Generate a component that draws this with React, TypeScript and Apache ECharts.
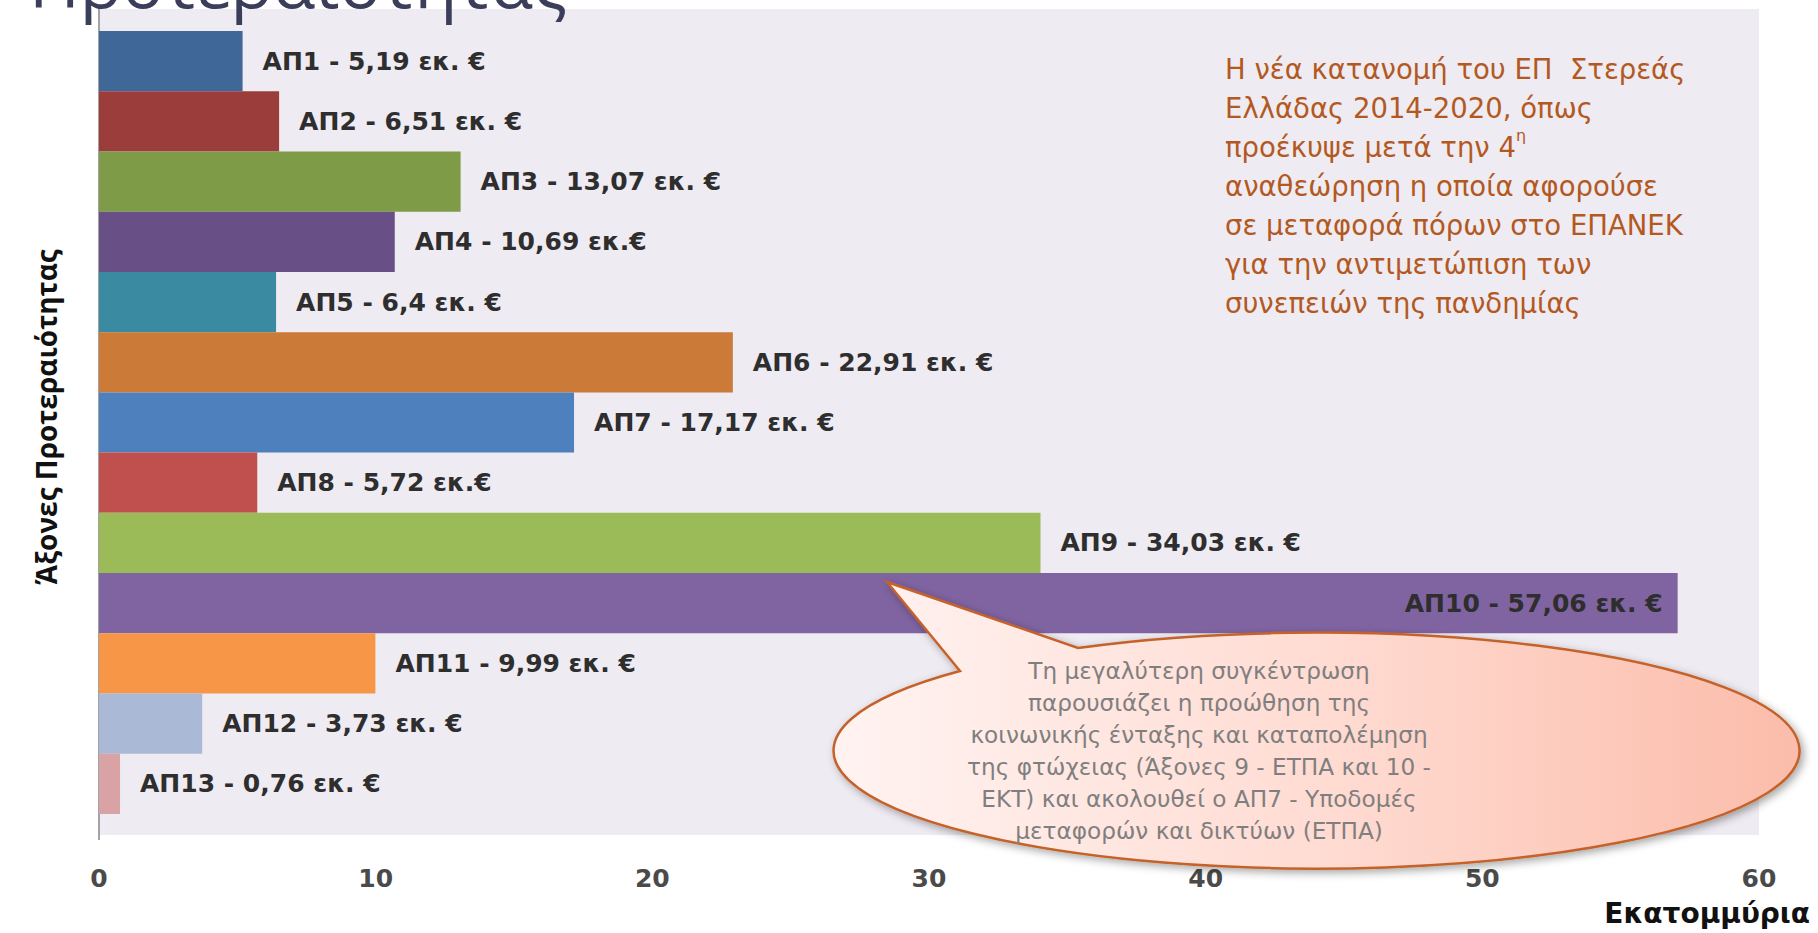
import React, { useEffect, useRef } from "react";
import * as echarts from "echarts";

const categories = ["ΑΠ1", "ΑΠ2", "ΑΠ3", "ΑΠ4", "ΑΠ5", "ΑΠ6", "ΑΠ7", "ΑΠ8", "ΑΠ9", "ΑΠ10", "ΑΠ11", "ΑΠ12", "ΑΠ13"];
const values = [5.19, 6.51, 13.07, 10.69, 6.4, 22.91, 17.17, 5.72, 34.03, 57.06, 9.99, 3.73, 0.76];
const barLabels = [
  "ΑΠ1 - 5,19 εκ. €",
  "ΑΠ2 - 6,51 εκ. €",
  "ΑΠ3 - 13,07 εκ. €",
  "ΑΠ4 - 10,69 εκ.€",
  "ΑΠ5 - 6,4 εκ. €",
  "ΑΠ6 - 22,91 εκ. €",
  "ΑΠ7 - 17,17 εκ. €",
  "ΑΠ8 - 5,72 εκ.€",
  "ΑΠ9 - 34,03 εκ. €",
  "ΑΠ10 - 57,06 εκ. €",
  "ΑΠ11 - 9,99 εκ. €",
  "ΑΠ12 - 3,73 εκ. €",
  "ΑΠ13 - 0,76 εκ. €",
];
const barColors = [
  "#3F6797", "#9B3D3B", "#7E9B48", "#684F85", "#3A8AA1", "#CB7A37", "#4E80BE",
  "#C0504D", "#9BBB59", "#8064A2", "#F79646", "#A9B9D6", "#D9A3A6",
];
const insideLabelIndex = [9];
const xMin = 0;
const xMax = 60;
const xInterval = 10;

const titleText = "Προτεραιότητας";
const yAxisTitle = "Άξονες Προτεραιότητας";
const xAxisTitle = "Εκατομμύρια";
const noteLines = [
  "Η νέα κατανομή του ΕΠ  Στερεάς",
  "Ελλάδας 2014-2020, όπως",
  "προέκυψε μετά την 4{sup|η}",
  "αναθεώρηση η οποία αφορούσε",
  "σε μεταφορά πόρων στο ΕΠΑΝΕΚ",
  "για την αντιμετώπιση των",
  "συνεπειών της πανδημίας",
];
const calloutLines = [
  "Τη μεγαλύτερη συγκέντρωση",
  "παρουσιάζει η προώθηση της",
  "κοινωνικής ένταξης και καταπολέμηση",
  "της φτώχειας (Άξονες 9 - ΕΤΠΑ και 10 -",
  "ΕΚΤ) και ακολουθεί ο ΑΠ7 - Υποδομές",
  "μεταφορών και δικτύων (ΕΤΠΑ)",
];

// Speech-bubble outline: ellipse with a tail
const calloutPath =
  "M 1078 648 A 483 118 0 1 1 960 671 L 887 582 Z";
echarts.graphic.registerShape("callout", echarts.graphic.extendPath(calloutPath, {}) as any);

export default function App() {
  const ref = useRef<HTMLDivElement>(null);

  useEffect(() => {
    if (!ref.current) return;
    const chart = echarts.init(ref.current, null, { renderer: "svg" });

    const data = values.map((v, i) => {
      const item: any = { value: v, itemStyle: { color: barColors[i] } };
      if (insideLabelIndex.includes(i)) {
        item.label = { position: "insideRight", distance: 15 };
      }
      return item;
    });

    chart.setOption({
      animation: false,
      backgroundColor: "#FFFFFF",
      grid: { left: 99, right: 59, top: 31, bottom: 119, containLabel: false },
      xAxis: {
        type: "value",
        min: xMin,
        max: xMax,
        interval: xInterval,
        splitLine: { show: false },
        axisLine: { show: false },
        axisTick: { show: false },
        axisLabel: {
          margin: 52,
          color: "#4A4A4A",
          fontFamily: "DejaVu Sans",
          fontWeight: "bold",
          fontSize: 25,
        },
      },
      yAxis: {
        type: "category",
        data: categories,
        inverse: true,
        axisLine: { show: false },
        axisTick: { show: false },
        axisLabel: { show: false },
        splitLine: { show: false },
      },
      series: [
        {
          type: "bar",
          data,
          barCategoryGap: "0%",
          z: 2,
          label: {
            show: true,
            position: "right",
            distance: 20,
            color: "#2E2E2E",
            fontFamily: "DejaVu Sans",
            fontWeight: "bold",
            fontSize: 25,
            formatter: (p: any) => barLabels[p.dataIndex],
          },
        },
      ],
      graphic: [
        {
          type: "rect",
          z: -10,
          silent: true,
          shape: { x: 99, y: 9, width: 1660, height: 826 },
          style: { fill: "#EEEBF2" },
        },
        {
          type: "line",
          z: 1,
          silent: true,
          shape: { x1: 99, y1: 9, x2: 99, y2: 840 },
          style: { stroke: "#A3A3A3", lineWidth: 2 },
        },
        {
          type: "text",
          z: 50,
          x: 29,
          y: -19,
          style: {
            text: titleText,
            fill: "#3B3E5A",
            fontFamily: "Open Sans",
            fontSize: 70,
            align: "left",
            verticalAlign: "middle",
          },
        },
        {
          type: "text",
          z: 50,
          x: 46,
          y: 417,
          rotation: Math.PI / 2,
          style: {
            text: yAxisTitle,
            fill: "#111111",
            fontFamily: "Open Sans",
            fontWeight: "bold",
            fontSize: 28,
            align: "center",
            verticalAlign: "middle",
          },
        },
        {
          type: "text",
          z: 50,
          x: 1810,
          y: 913,
          style: {
            text: xAxisTitle,
            fill: "#111111",
            fontFamily: "DejaVu Sans",
            fontWeight: "bold",
            fontSize: 28,
            align: "right",
            verticalAlign: "middle",
          },
        },
        {
          type: "text",
          z: 50,
          x: 1225,
          y: 49,
          style: {
            text: noteLines.join("\n"),
            fill: "#B3591F",
            fontFamily: "DejaVu Sans",
            fontSize: 27.5,
            lineHeight: 39,
            align: "left",
            verticalAlign: "top",
            rich: {
              sup: {
                fill: "#B3591F",
                fontFamily: "DejaVu Sans",
                fontSize: 16,
                lineHeight: 22,
                verticalAlign: "top",
              },
            },
          },
        },
        {
          type: "callout",
          z: 100,
          x: 0,
          y: 0,
          silent: true,
          style: {
            fill: new echarts.graphic.LinearGradient(0, 0, 1, 0, [
              { offset: 0, color: "#FFF3F1" },
              { offset: 0.5, color: "#FFDCD3" },
              { offset: 1, color: "#FBBCAA" },
            ]),
            stroke: "#C4622A",
            lineWidth: 2.5,
            shadowBlur: 8,
            shadowColor: "rgba(0,0,0,0.35)",
            shadowOffsetX: 3,
            shadowOffsetY: 3,
          },
        },
        {
          type: "text",
          z: 101,
          x: 1199,
          y: 750,
          silent: true,
          style: {
            text: calloutLines.join("\n"),
            fill: "#7F7F7F",
            fontFamily: "DejaVu Sans",
            fontSize: 23.2,
            lineHeight: 32,
            align: "center",
            verticalAlign: "middle",
          },
        },
      ],
    });

    return () => {
      chart.dispose();
    };
  }, []);

  return (
    <div
      ref={ref}
      style={{ position: "fixed", left: 0, top: 0, width: 1818, height: 933 }}
    />
  );
}
